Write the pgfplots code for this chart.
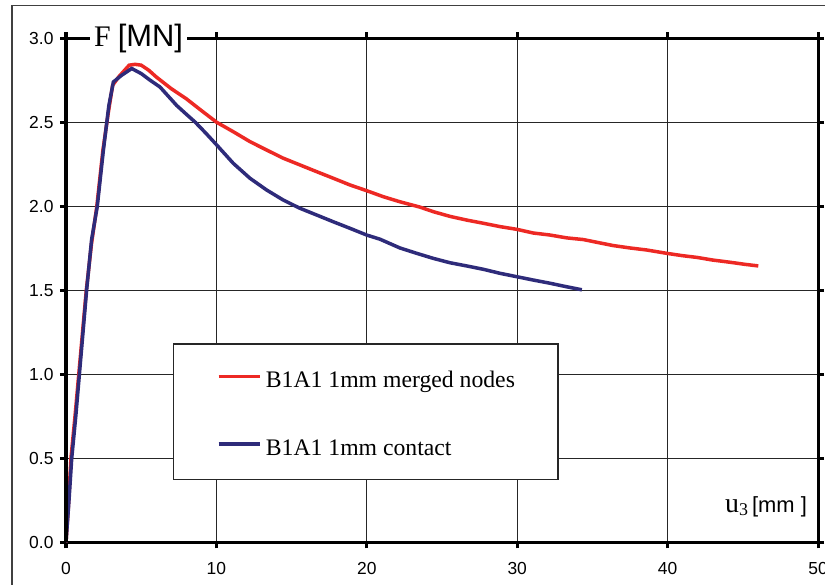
\documentclass[border=0pt]{standalone}
\usepackage{fontspec}
\setmainfont{Liberation Serif}
\newfontfamily\arial{Liberation Sans}
\usepackage{pgfplots}
\pgfplotsset{compat=1.18}
\definecolor{cred}{RGB}{237,41,36}
\definecolor{cblue}{RGB}{46,43,122}
\begin{document}
\begin{tikzpicture}
\clip (0,0) rectangle (825bp,585bp);
\useasboundingbox (0,0) rectangle (825bp,585bp);
\fill[white] (0,0) rectangle (825bp,585bp);
\begin{axis}[
  scale only axis, width=752bp, height=504bp,
  at={(66bp,42.7bp)}, anchor=south west,
  xmin=0, xmax=50, ymin=0, ymax=3,
  xtick={0,10,20,30,40,50}, ytick={0,0.5,1,1.5,2,2.5,3},
  xticklabels={0,10,20,30,40,50},
  yticklabels={0.0,0.5,1.0,1.5,2.0,2.5,3.0},
  grid=major, major grid style={line width=1.3bp, black!85},
  axis line style={line width=3bp, black},
  tick style={line width=3bp, black},
  tick align=outside, major tick length=6bp,
  ticklabel style={font=\arial\fontsize{17.5}{17.5}\selectfont},
  xticklabel style={yshift=-11bp},
  yticklabel style={xshift=-3bp},
  legend style={at={(axis cs:7.13,1.1845)}, anchor=north west,
    draw=black!85, line width=1.2bp, inner xsep=43bp, inner ysep=24bp,
    font=\fontsize{23.8}{23.8}\selectfont,
    nodes={inner sep=0pt, text height=20bp, text depth=0bp},
    row sep=47.6bp,
    /tikz/every odd column/.append style={column sep=4.5bp}},
  legend cell align=left,
  legend image code/.code={\draw[#1] (0bp,1.5bp) -- (41bp,1.5bp);},
]
\addplot[color=cred, line width=3.5bp] coordinates {
(0,0)(0.15,0.2)(0.33,0.5)(0.6,0.75)(0.85,1.0)(1.1,1.25)(1.35,1.5)(1.7,1.78)
(2.05,2.0)(2.45,2.33)(2.8,2.55)(3.1,2.72)(3.5,2.77)(3.9,2.81)(4.2,2.84)
(4.6,2.845)(5.0,2.84)(5.5,2.81)(6.0,2.77)(7.0,2.70)(8.0,2.64)(9.0,2.57)
(10.02,2.50)(11.12,2.444)(12.23,2.385)(13.34,2.335)(14.45,2.286)(15.56,2.246)
(16.67,2.206)(17.77,2.167)(18.88,2.127)(19.99,2.093)(21.1,2.057)(22.2,2.027)
(23.54,1.995)(24.42,1.968)(25.53,1.940)(26.64,1.918)(27.75,1.899)(28.86,1.879)
(29.97,1.863)(31.07,1.841)(32.18,1.829)(33.29,1.812)(34.4,1.802)(35.5,1.782)
(36.4,1.766)(37.5,1.752)(38.6,1.740)(39.94,1.720)(41.0,1.706)(41.93,1.696)
(43.0,1.680)(44.15,1.667)(45.1,1.655)(46.03,1.645)
};
\addlegendentry{B1A1 1mm merged nodes}
\addplot[color=cblue, line width=3.5bp] coordinates {
(0,0)(0.2,0.25)(0.38,0.5)(0.65,0.75)(0.89,1.0)(1.13,1.25)(1.37,1.5)(1.7,1.8)
(2.08,2.0)(2.48,2.33)(2.85,2.6)(3.15,2.74)(3.7,2.78)(4.37,2.82)(5.0,2.79)
(5.6,2.75)(6.25,2.71)(7.36,2.60)(8.0,2.548)(8.6,2.50)(9.3,2.435)(10.02,2.365)(11.12,2.256)
(12.23,2.167)(13.34,2.097)(14.45,2.037)(15.56,1.988)(16.67,1.948)(17.77,1.908)
(18.88,1.869)(19.99,1.829)(20.88,1.804)(22.2,1.752)(23.32,1.720)(24.42,1.690)
(25.53,1.664)(26.64,1.645)(27.75,1.625)(28.86,1.601)(29.97,1.581)(31.07,1.561)
(32.18,1.542)(33.29,1.521)(34.3,1.503)
};
\addlegendentry{B1A1 1mm contact}
\draw[line width=4.5bp, black] (rel axis cs:0,1) -- (rel axis cs:0,0);
\end{axis}
\draw[line width=1.2bp, black!75] (12bp,-5bp) -- (12bp,579.3bp) -- (830bp,579.3bp);
\node[fill=white, inner xsep=4bp, inner ysep=3bp, anchor=base west] at (90bp,538.3bp)
  {\fontsize{30}{30}\selectfont F\hspace{7bp}\arial\fontsize{31}{31}\selectfont[MN]};
\node[anchor=base west, inner sep=0pt] at (725bp,72bp)
  {\fontsize{28}{28}\selectfont u\raisebox{-3bp}{\fontsize{18}{18}\selectfont 3}\hspace{4bp}\arial\fontsize{22}{22}\selectfont[mm\ ]};
\end{tikzpicture}
\end{document}
